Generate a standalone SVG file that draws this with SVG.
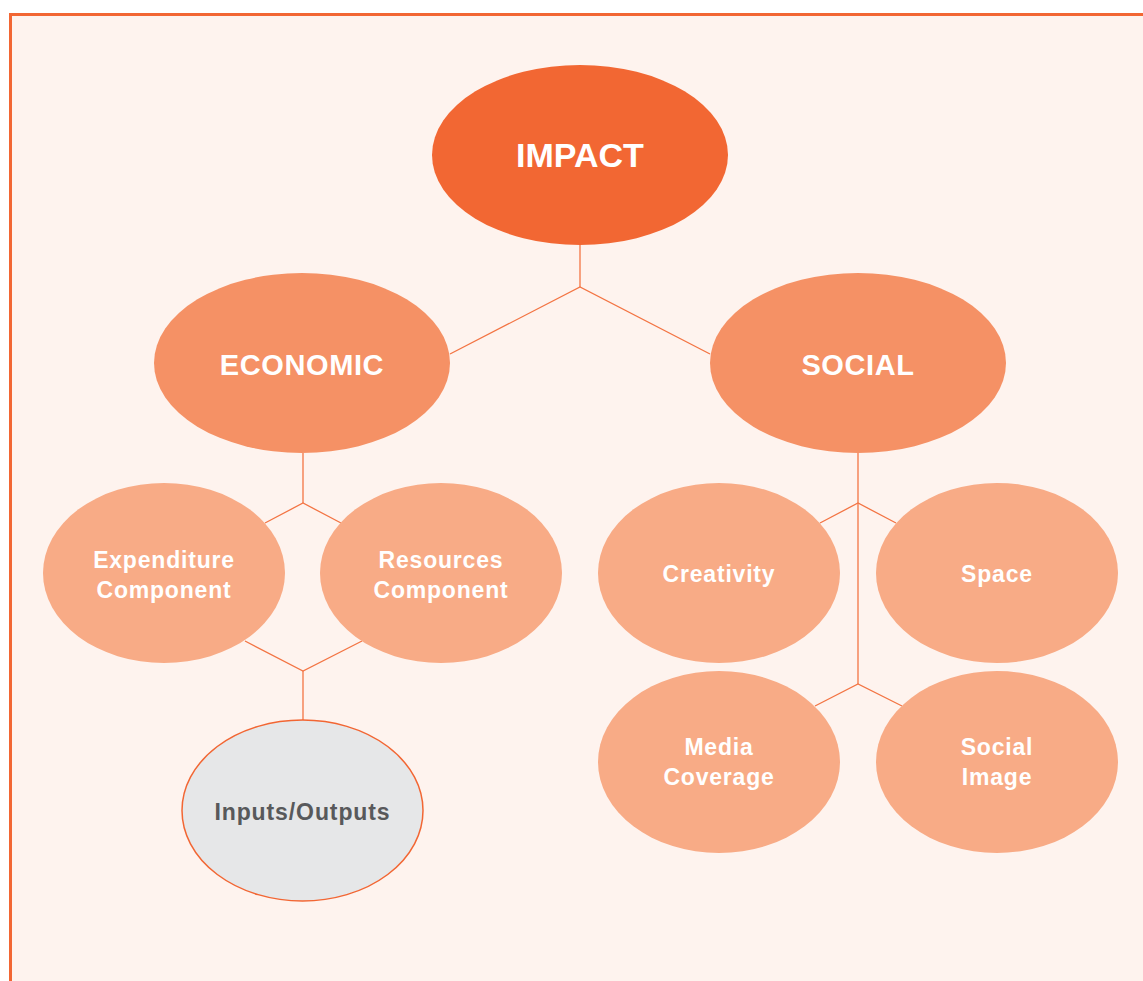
<svg xmlns="http://www.w3.org/2000/svg" width="1143" height="981" viewBox="0 0 1143 981">
<style>
.bg{fill:#fef3ee;stroke:#f26633;stroke-width:3}
.top{fill:#f26733}
.mid{fill:#f59165}
.leaf{fill:#f8ab86}
.io{fill:#e6e7e8;stroke:#f26633;stroke-width:1.5}
.t{font-family:"Liberation Sans",Arial,sans-serif;font-weight:bold;fill:#ffffff;text-anchor:middle}
.t1{font-size:34px}
.t2{font-size:29px;letter-spacing:0.6px}
.t3{font-size:23px;letter-spacing:0.8px}
.tio{fill:#58595b;font-size:23px;letter-spacing:0.9px}
.c{fill:none;stroke:#f37443;stroke-width:1.3}
</style>
<rect x="0" y="0" width="1143" height="981" fill="#ffffff"/>
<rect class="bg" x="10.5" y="14.5" width="1200" height="1000"/>
<g id="connectors">
<polyline class="c" points="580,244 580,287"/>
<polyline class="c" points="450,354 580,287 710,354"/>
<polyline class="c" points="303,453 303,503"/>
<polyline class="c" points="265,523 303,503 341,523"/>
<polyline class="c" points="245,641 303,671 362,641"/>
<polyline class="c" points="303,671 303,720"/>
<polyline class="c" points="858,453 858,684"/>
<polyline class="c" points="820,523 858,503 896,523"/>
<polyline class="c" points="815,706 858,684 902,706"/>
</g>
<g id="impact">
<ellipse class="top" cx="580" cy="155" rx="148" ry="90"/>
<text class="t t1" x="580" y="167">IMPACT</text>
</g>
<g id="economic">
<ellipse class="mid" cx="302" cy="363" rx="148" ry="90"/>
<text class="t t2" x="302" y="375">ECONOMIC</text>
</g>
<g id="social">
<ellipse class="mid" cx="858" cy="363" rx="148" ry="90"/>
<text class="t t2" x="858" y="375">SOCIAL</text>
</g>
<g id="expenditure">
<ellipse class="leaf" cx="164" cy="573" rx="121" ry="90"/>
<text class="t t3" x="164" y="568">Expenditure</text>
<text class="t t3" x="164" y="598">Component</text>
</g>
<g id="resources">
<ellipse class="leaf" cx="441" cy="573" rx="121" ry="90"/>
<text class="t t3" x="441" y="568">Resources</text>
<text class="t t3" x="441" y="598">Component</text>
</g>
<g id="inputs-outputs">
<ellipse class="io" cx="302.5" cy="810.5" rx="120.5" ry="90.5"/>
<text class="t tio" x="302.5" y="820">Inputs/Outputs</text>
</g>
<g id="creativity">
<ellipse class="leaf" cx="719" cy="573" rx="121" ry="90"/>
<text class="t t3" x="719" y="582">Creativity</text>
</g>
<g id="space">
<ellipse class="leaf" cx="997" cy="573" rx="121" ry="90"/>
<text class="t t3" x="997" y="582">Space</text>
</g>
<g id="media-coverage">
<ellipse class="leaf" cx="719" cy="762" rx="121" ry="91"/>
<text class="t t3" x="719" y="755">Media</text>
<text class="t t3" x="719" y="785">Coverage</text>
</g>
<g id="social-image">
<ellipse class="leaf" cx="997" cy="762" rx="121" ry="91"/>
<text class="t t3" x="997" y="755">Social</text>
<text class="t t3" x="997" y="785">Image</text>
</g>
</svg>
